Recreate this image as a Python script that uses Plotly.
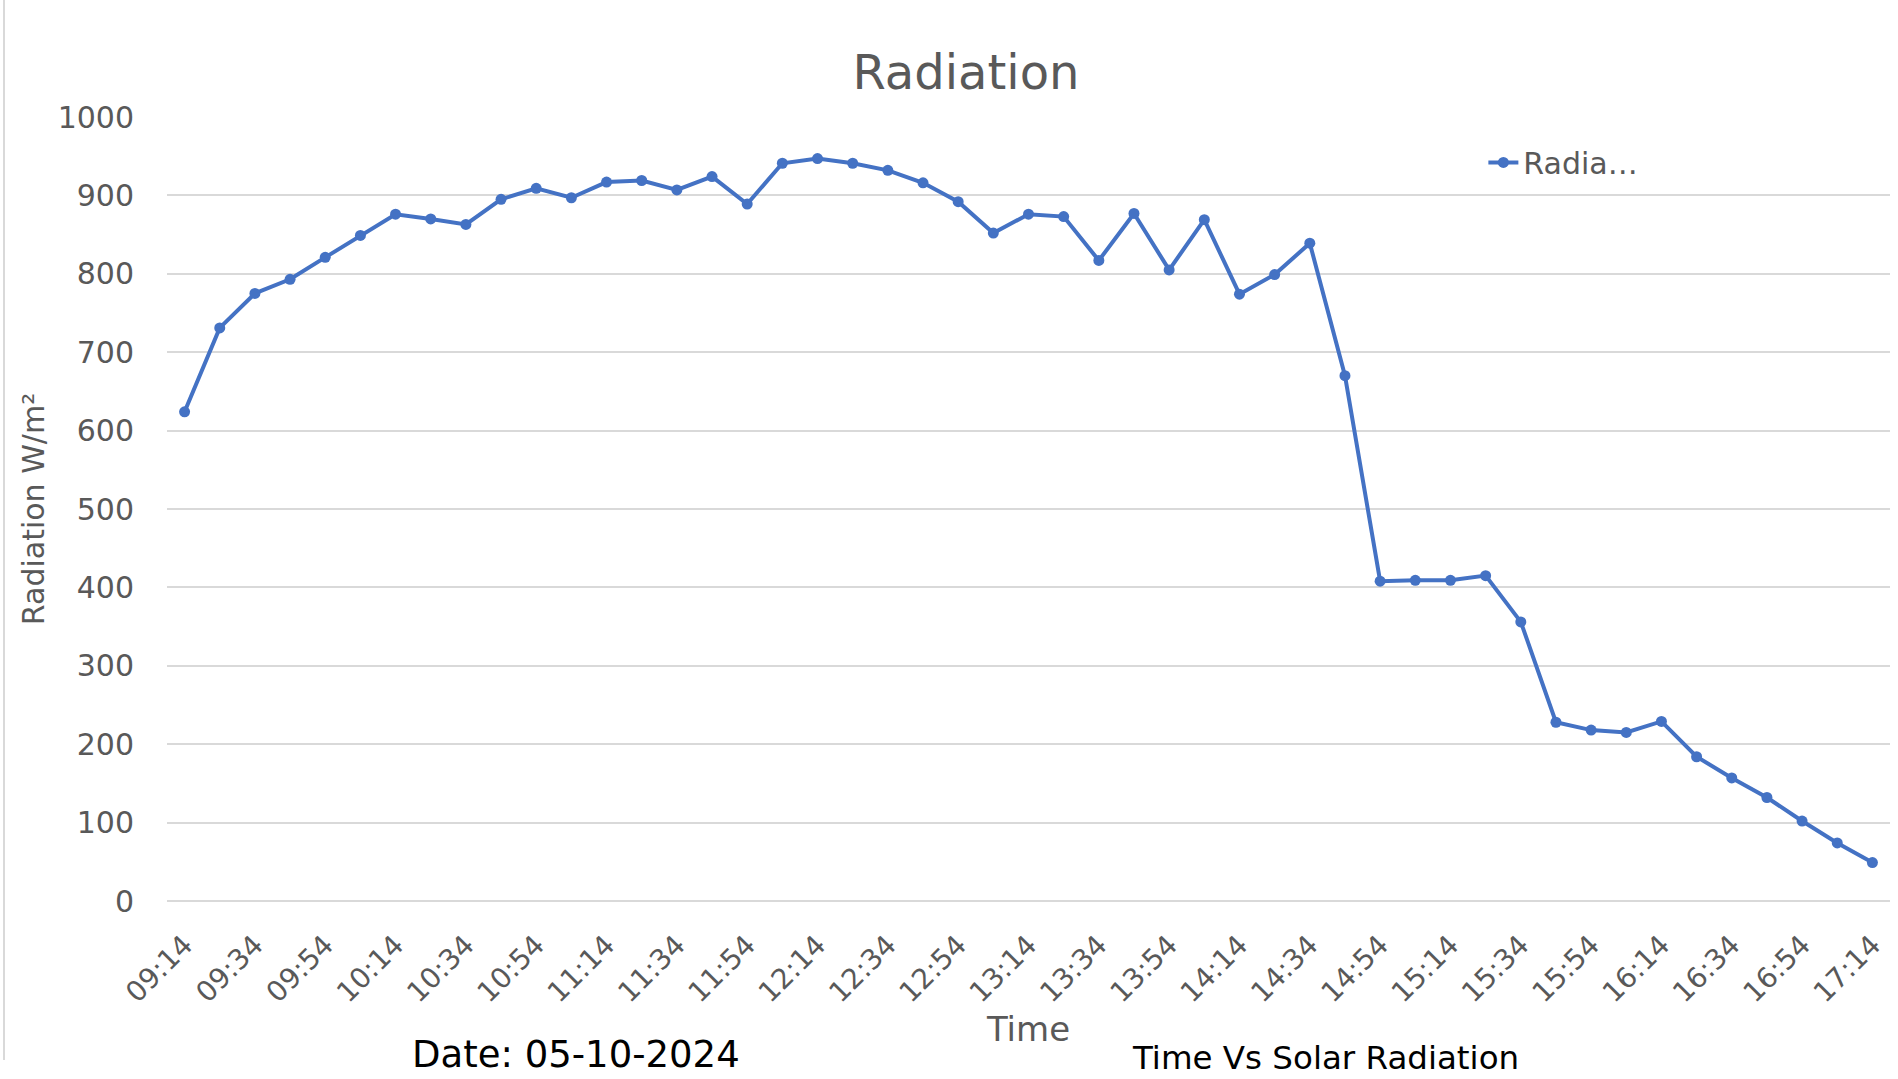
import plotly.graph_objects as go

# ---- data ----
times = ["09:14", "09:24", "09:34", "09:44", "09:54", "10:04", "10:14", "10:24", "10:34", "10:44",
         "10:54", "11:04", "11:14", "11:24", "11:34", "11:44", "11:54", "12:04", "12:14", "12:24",
         "12:34", "12:44", "12:54", "13:04", "13:14", "13:24", "13:34", "13:44", "13:54", "14:04",
         "14:14", "14:24", "14:34", "14:44", "14:54", "15:04", "15:14", "15:24", "15:34", "15:44",
         "15:54", "16:04", "16:14", "16:24", "16:34", "16:44", "16:54", "17:04", "17:14"]
radiation = [624, 731, 775, 793, 821, 849, 876, 870, 863, 895,
             909, 897, 917, 919, 907, 924, 889, 941, 947, 941,
             932, 916, 892, 852, 876, 873, 817, 877, 805, 869,
             774, 799, 839, 670, 408, 409, 409, 415, 356, 228,
             218, 215, 229, 184, 157, 132, 102, 74, 49]
tick_labels = ["09:14", "09:34", "09:54", "10:14", "10:34", "10:54", "11:14", "11:34", "11:54",
               "12:14", "12:34", "12:54", "13:14", "13:34", "13:54", "14:14", "14:34", "14:54",
               "15:14", "15:34", "15:54", "16:14", "16:34", "16:54", "17:14"]
y_ticks = [0, 100, 200, 300, 400, 500, 600, 700, 800, 900, 1000]

FONT = "DejaVu Sans"
GRAY = "#595959"
GRID = "#d9d9d9"
BLUE = "#4472C4"

fig = go.Figure()
fig.add_trace(go.Scatter(
    x=times, y=radiation, mode="lines+markers", name="Radia…",
    line=dict(color=BLUE, width=4),
    marker=dict(color=BLUE, size=11),
))

L, R, T, B = 167, 8, 117, 178
fig.update_layout(
    width=1898, height=1079,
    margin=dict(l=L, r=R, t=T, b=B, pad=0),
    paper_bgcolor="white", plot_bgcolor="white",
    font=dict(family=FONT, color=GRAY),
    title=dict(text="Radiation", font=dict(family=FONT, size=48, color=GRAY),
               x=966 / 1898, xanchor="center", y=1 - 72 / 1079, yanchor="middle",
               xref="container", yref="container"),
    showlegend=True,
    legend=dict(x=0.764, xanchor="left", y=0.942, yanchor="middle",
                font=dict(family=FONT, size=30, color=GRAY),
                bgcolor="rgba(0,0,0,0)", borderwidth=0),
    xaxis=dict(
        type="category", range=[-0.5, len(times) - 0.5],
        tickmode="array", tickvals=tick_labels, ticktext=tick_labels,
        tickangle=-45, tickfont=dict(family=FONT, size=28, color=GRAY),
        showgrid=False, showline=False, zeroline=False, ticks="",
        ticklabelstandoff=21,
        title=dict(text="Time", font=dict(family=FONT, size=34, color=GRAY), standoff=8),
    ),
    yaxis=dict(
        range=[0, 1000], tickmode="array", tickvals=y_ticks,
        tickfont=dict(family=FONT, size=30, color=GRAY),
        showgrid=True, gridcolor=GRID, gridwidth=2,
        zeroline=True, zerolinecolor=GRID, zerolinewidth=2,
        showline=False, ticks="", ticklabelstandoff=32,
        title=dict(text="Radiation W/m²", font=dict(family=FONT, size=30, color=GRAY), standoff=4),
    ),
)

# frame line at the left edge of the picture
plot_w = 1898 - L - R
plot_h = 1079 - T - B
fig.add_shape(type="line", xref="paper", yref="paper",
              x0=(4 - L) / plot_w, x1=(4 - L) / plot_w,
              y0=(1079 - B - 0) / plot_h, y1=(1079 - B - 1060) / plot_h,
              line=dict(color=GRID, width=2))

# captions below the chart
fig.add_annotation(text="Date: 05-10-2024", xref="paper", yref="paper",
                   x=(576 - L) / plot_w, y=(1079 - B - 1054) / plot_h,
                   xanchor="center", yanchor="middle", showarrow=False,
                   font=dict(family=FONT, size=37, color="black"))
fig.add_annotation(text="Time Vs Solar Radiation", xref="paper", yref="paper",
                   x=(1325 - L) / plot_w, y=(1079 - B - 1058) / plot_h,
                   xanchor="center", yanchor="middle", showarrow=False,
                   font=dict(family=FONT, size=32.5, color="black"))

fig.write_html("out.html", config={"displayModeBar": False},
               post_script="document.body.style.margin='0';document.body.style.overflow='hidden';")
